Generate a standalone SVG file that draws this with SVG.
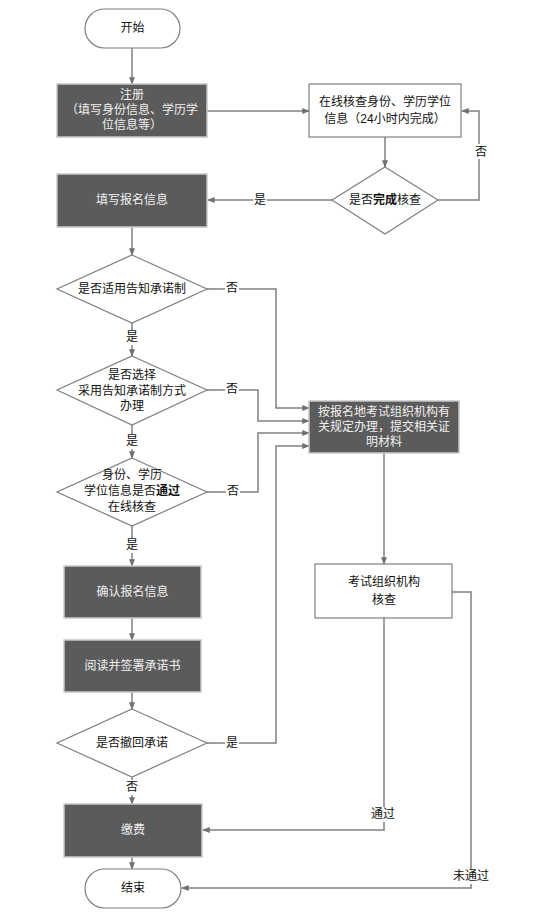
<svg xmlns="http://www.w3.org/2000/svg" width="533" height="918" viewBox="0 0 533 918">
<style>
text{font-family:"Liberation Sans","Noto Sans CJK SC",sans-serif;font-size:12px;text-anchor:middle;dominant-baseline:central}
.dark{fill:#5b5b5b;stroke:#c8c8c8;stroke-width:1.5}
.dark+text,.dt{fill:#f0f0f0}
.light{fill:#fff;stroke:#7f7f7f;stroke-width:1.2}
.dia{fill:#fff;stroke:#7f7f7f;stroke-width:1.2}
.bt{fill:#111}
.con path{fill:none;stroke:#808080;stroke-width:1.5}
.lbl rect{fill:#fff}
.lbl text{fill:#111}
</style>
<defs>
<marker id="ah" viewBox="0 0 10 10" refX="9" refY="5" markerWidth="5" markerHeight="5" orient="auto" markerUnits="strokeWidth">
<path d="M0,1 L10,5 L0,9 z" fill="#707070"/>
</marker>
</defs>
<rect width="533" height="918" fill="#fff"/>
<g class="con" marker-end="url(#ah)">
<path d="M132,48 V84"/>
<path d="M207,111 H309"/>
<path d="M385,137 V167"/>
<path d="M438,200 H479 V111 H462"/>
<path d="M332,200 H208"/>
<path d="M132,227 V255"/>
<path d="M207,289 H276 V408 H309"/>
<path d="M132,323 V356"/>
<path d="M207,390 H258 V421 H309"/>
<path d="M132,425 V458"/>
<path d="M207,492 H258 V433 H309"/>
<path d="M132,526 V566"/>
<path d="M132,618 V640"/>
<path d="M132,692 V709"/>
<path d="M207,743 H276 V446 H309"/>
<path d="M132,777 V804"/>
<path d="M132,857 V869"/>
<path d="M384,453 V564"/>
<path d="M384,618 V830 H203"/>
<path d="M452,592 H471 V888 H182"/>
</g>
<g class="lbl">
<rect x="253" y="193" width="14" height="15"/><text x="260" y="200">是</text>
<rect x="474" y="144" width="14" height="15"/><text x="481" y="152">否</text>
<rect x="225" y="281" width="14" height="15"/><text x="232" y="288">否</text>
<rect x="125" y="330" width="14" height="15"/><text x="132" y="337">是</text>
<rect x="225" y="382" width="14" height="15"/><text x="232" y="389">否</text>
<rect x="125" y="434" width="14" height="15"/><text x="132" y="441">是</text>
<rect x="226" y="484" width="14" height="15"/><text x="233" y="491">否</text>
<rect x="125" y="538" width="14" height="15"/><text x="132" y="545">是</text>
<rect x="225" y="736" width="14" height="15"/><text x="232" y="743">是</text>
<rect x="125" y="780" width="14" height="15"/><text x="132" y="787">否</text>
<rect x="370" y="807" width="26" height="15"/><text x="383" y="814">通过</text>
<rect x="452" y="869" width="38" height="15"/><text x="471" y="876">未通过</text>
</g>
<g id="start"><rect x="85" y="9" width="95" height="39" rx="19.5" class="light"/><text x="132.5" y="28" class="bt">开始</text></g>
<g id="register"><rect x="57" y="84" width="150" height="53" class="dark"/><text class="dt"><tspan x="132" y="95">注册</tspan><tspan x="132" y="110">（填写身份信息、学历学</tspan><tspan x="132" y="125">位信息等）</tspan></text></g>
<g id="online-check"><rect x="309" y="84" width="152" height="53" class="light"/><text class="bt"><tspan x="385" y="102">在线核查身份、学历学位</tspan><tspan x="385" y="119">信息（24小时内完成）</tspan></text></g>
<g id="check-done"><polygon points="385,167 438,200 385,234 332,200" class="dia"/><text x="385" y="200" class="bt">是否<tspan font-weight="bold">完成</tspan>核查</text></g>
<g id="fill-info"><rect x="57" y="174" width="150" height="53" class="dark"/><text x="132" y="200" class="dt">填写报名信息</text></g>
<g id="d1"><polygon points="132,255 207,289 132,323 57,289" class="dia"/><text x="132" y="289" class="bt">是否适用告知承诺制</text></g>
<g id="d2"><polygon points="132,356 207,390 132,425 57,390" class="dia"/><text class="bt"><tspan x="132" y="375">是否选择</tspan><tspan x="132" y="391">采用告知承诺制方式</tspan><tspan x="132" y="406">办理</tspan></text></g>
<g id="d3"><polygon points="132,458 207,492 132,526 57,492" class="dia"/><text class="bt"><tspan x="132" y="475">身份、学历</tspan><tspan x="132" y="491">学位信息是否<tspan font-weight="bold">通过</tspan></tspan><tspan x="132" y="507">在线核查</tspan></text></g>
<g id="submit"><rect x="309" y="401" width="150" height="52" class="dark"/><text class="dt"><tspan x="384" y="412">按报名地考试组织机构有</tspan><tspan x="384" y="427">关规定办理，提交相关证</tspan><tspan x="384" y="442">明材料</tspan></text></g>
<g id="org-check"><rect x="315" y="564" width="137" height="54" class="light"/><text class="bt"><tspan x="384" y="582">考试组织机构</tspan><tspan x="384" y="600">核查</tspan></text></g>
<g id="confirm"><rect x="64" y="566" width="137" height="52" class="dark"/><text x="132.5" y="592" class="dt">确认报名信息</text></g>
<g id="sign"><rect x="64" y="640" width="137" height="52" class="dark"/><text x="132.5" y="666" class="dt">阅读并签署承诺书</text></g>
<g id="d4"><polygon points="132,709 207,743 132,777 57,743" class="dia"/><text x="132" y="743" class="bt">是否撤回承诺</text></g>
<g id="pay"><rect x="64" y="804" width="138" height="53" class="dark"/><text x="133" y="830" class="dt">缴费</text></g>
<g id="end"><rect x="85" y="869" width="96" height="39" rx="19.5" class="light"/><text x="133" y="888" class="bt">结束</text></g>
</svg>
